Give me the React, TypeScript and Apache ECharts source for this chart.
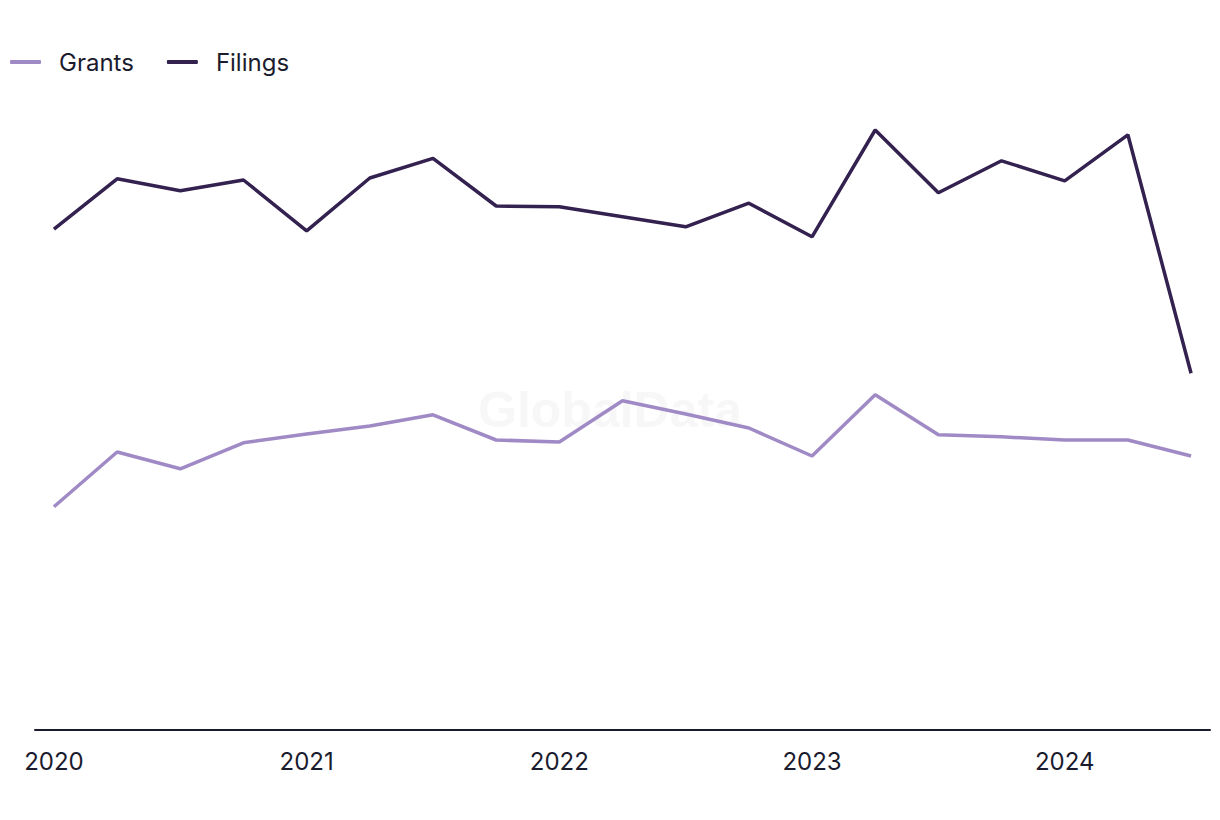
import React, { useEffect, useRef } from "react";
import * as echarts from "echarts";

const quarters = [
  "2020 Q1", "2020 Q2", "2020 Q3", "2020 Q4",
  "2021 Q1", "2021 Q2", "2021 Q3", "2021 Q4",
  "2022 Q1", "2022 Q2", "2022 Q3", "2022 Q4",
  "2023 Q1", "2023 Q2", "2023 Q3", "2023 Q4",
  "2024 Q1", "2024 Q2", "2024 Q3",
];
const grants = [55.8, 69.5, 65.3, 71.8, 74, 76, 78.8, 72.5, 72, 82.3, 79, 75.5, 68.5, 83.8, 73.8, 73.3, 72.5, 72.5, 68.5];
const filings = [125.2, 137.8, 134.8, 137.5, 124.8, 138, 142.9, 131, 130.8, 128.3, 125.8, 131.7, 123.3, 150, 134.3, 142.3, 137.3, 148.8, 89.2];
const yearTickIndices = [0, 4, 8, 12, 16];
const yearLabels = ["2020", "2021", "2022", "2023", "2024"];

const FONT = "Inter, 'Noto Sans', sans-serif";
const TEXT = "#1b1b2e";

export default function App() {
  const ref = useRef<HTMLDivElement>(null);
  useEffect(() => {
    if (!ref.current) return;
    const chart = echarts.init(ref.current, null, { renderer: "svg" });
    chart.setOption({
      animation: false,
      backgroundColor: "#ffffff",
      textStyle: { fontFamily: FONT },
      graphic: [
        {
          type: "text",
          x: 610,
          y: 410,
          silent: true,
          z: -1,
          style: {
            text: "GlobalData",
            fontSize: 50,
            fontWeight: "bold",
            fontFamily: "'Liberation Sans', Arial, sans-serif",
            fill: "#f7f7f7",
            textAlign: "center",
            textVerticalAlign: "middle",
          },
        },
      ],
      legend: {
        left: 10,
        top: 50,
        padding: 0,
        itemWidth: 31,
        itemHeight: 4,
        itemGap: 33,
        icon: "roundRect",
        textStyle: {
          fontSize: 24,
          color: TEXT,
          fontFamily: FONT,
          padding: [0, 0, 0, 13],
        },
        data: ["Grants", "Filings"],
      },
      grid: { left: 35, right: 10, top: 90, bottom: 90, containLabel: false },
      xAxis: {
        type: "value",
        min: -0.3,
        max: 18.3,
        splitLine: { show: false },
        axisTick: { show: false },
        axisLine: { show: true, onZero: false, lineStyle: { color: TEXT, width: 2 } },
        axisLabel: {
          customValues: yearTickIndices,
          formatter: (v: number) => yearLabels[yearTickIndices.indexOf(Math.round(v))] ?? "",
          fontSize: 24,
          color: TEXT,
          fontFamily: FONT,
          margin: 19,
        },
      },
      yAxis: {
        type: "value",
        min: 0,
        max: 160,
        show: false,
        splitLine: { show: false },
      },
      series: [
        {
          name: "Grants",
          type: "line",
          data: grants.map((v, i) => [i, v]),
          showSymbol: false,
          symbol: "none",
          lineStyle: { width: 3.5, color: "#a08ac6" },
          itemStyle: { color: "#a08ac6" },
        },
        {
          name: "Filings",
          type: "line",
          data: filings.map((v, i) => [i, v]),
          showSymbol: false,
          symbol: "none",
          lineStyle: { width: 3.5, color: "#33214f" },
          itemStyle: { color: "#33214f" },
        },
      ],
    });
    return () => chart.dispose();
  }, []);
  return (
    <div
      ref={ref}
      data-quarters={quarters.length}
      style={{ position: "absolute", left: 0, top: 0, width: 1220, height: 820 }}
    />
  );
}
